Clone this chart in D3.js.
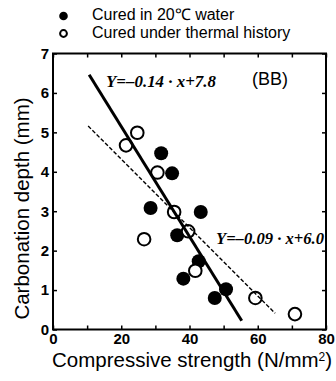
<!DOCTYPE html>
<html>
<head>
<meta charset="utf-8">
<script src="https://cdn.jsdelivr.net/npm/d3@7"></script>
<style>
  html, body { margin: 0; padding: 0; background: #fff; }
  svg { display: block; }
</style>
</head>
<body>
<svg id="chart" width="336" height="381"></svg>
<script>
// ---- data ----
const waterX   = [31.7, 34.9, 28.6, 43.3, 36.4, 42.7, 38.2, 47.4, 50.7];
const waterY   = [4.47, 3.96, 3.08, 2.98, 2.39, 1.73, 1.29, 0.80, 1.02];
const thermalX = [24.7, 21.4, 30.6, 35.5, 26.7, 39.6, 41.7, 59.3, 70.9];
const thermalY = [4.99, 4.67, 3.98, 2.98, 2.29, 2.49, 1.49, 0.80, 0.39];
const fitWaterX   = [10.6, 55.3];
const fitWaterY   = [6.46, 0.22];
const fitThermalX = [10.3, 65.1];
const fitThermalY = [5.16, 0.41];
const xTicks = [0, 10, 20, 30, 40, 50, 60, 70, 80];
const xTickLabels = [0, 20, 40, 60, 80];
const yTicks = [0, 1, 2, 3, 4, 5, 6, 7];
const legendLabels = ["Cured in 20\u2103 water", "Cured under thermal history"];
const eqWater = "Y=\u20130.14 \u00B7 x+7.8";
const eqThermal = "Y=\u20130.09 \u00B7 x+6.0";
const panelLabel = "(BB)";
const xTitle = "Compressive strength (N/mm";
const yTitle = "Carbonation depth (mm)";

// ---- layout ----
const svg = d3.select("#chart");
const L = 53, R = 326, T = 53.5, B = 329.5;
const x = d3.scaleLinear().domain([0, 80]).range([L, R]);
const y = d3.scaleLinear().domain([0, 7]).range([B, T]);
const sans = "'Liberation Sans', Arial, sans-serif";
const serif = "'Liberation Serif', 'Times New Roman', serif";

// tick marks (inward) on all four sides
function styleAxis(g) {
  g.select(".domain").remove();
  g.selectAll(".tick line").attr("stroke", "#000").attr("stroke-width", 1.5);
}
svg.append("g").attr("transform", `translate(0,${B})`)
  .call(d3.axisBottom(x).tickValues(xTicks).tickSize(-4).tickFormat(""))
  .call(styleAxis);
svg.append("g").attr("transform", `translate(0,${T})`)
  .call(d3.axisTop(x).tickValues(xTicks).tickSize(-4).tickFormat(""))
  .call(styleAxis);
svg.append("g").attr("transform", `translate(${L},0)`)
  .call(d3.axisLeft(y).tickValues(yTicks).tickSize(-4).tickFormat(""))
  .call(styleAxis);
svg.append("g").attr("transform", `translate(${R},0)`)
  .call(d3.axisRight(y).tickValues(yTicks).tickSize(-4).tickFormat(""))
  .call(styleAxis);

// tick labels
const xl = svg.append("g").attr("transform", `translate(0,${B})`)
  .call(d3.axisBottom(x).tickValues(xTickLabels).tickSize(0).tickPadding(4).tickFormat(d3.format("d")));
xl.select(".domain").remove();
xl.selectAll("text").attr("font-family", sans).attr("font-size", 15).attr("font-weight", "bold").attr("fill", "#000");

const yl = svg.append("g").attr("transform", `translate(${L},0)`)
  .call(d3.axisLeft(y).tickValues(yTicks).tickSize(0).tickPadding(4).tickFormat(d3.format("d")));
yl.select(".domain").remove();
yl.selectAll("text").attr("font-family", sans).attr("font-size", 15).attr("font-weight", "bold").attr("fill", "#000");

// frame
svg.append("rect").attr("x", L).attr("y", T).attr("width", R - L).attr("height", B - T)
  .attr("fill", "none").attr("stroke", "#000").attr("stroke-width", 2);

// points
const water = waterX.map((v, i) => [v, waterY[i]]);
const thermal = thermalX.map((v, i) => [v, thermalY[i]]);
svg.append("g").selectAll("circle").data(water).join("circle")
  .attr("cx", d => x(d[0])).attr("cy", d => y(d[1])).attr("r", 7).attr("fill", "#000");
svg.append("g").selectAll("circle").data(thermal).join("circle")
  .attr("cx", d => x(d[0])).attr("cy", d => y(d[1])).attr("r", 6.3)
  .attr("fill", "#fff").attr("stroke", "#000").attr("stroke-width", 2);

// fit lines
const line = d3.line().x(d => x(d[0])).y(d => y(d[1]));
svg.append("path").datum(fitWaterX.map((v, i) => [v, fitWaterY[i]]))
  .attr("d", line).attr("stroke", "#000").attr("stroke-width", 3).attr("fill", "none");
svg.append("path").datum(fitThermalX.map((v, i) => [v, fitThermalY[i]]))
  .attr("d", line).attr("stroke", "#000").attr("stroke-width", 1.4)
  .attr("stroke-dasharray", "4,2").attr("fill", "none");

// equations and panel label
svg.append("text").attr("x", 106).attr("y", 87).text(eqWater)
  .attr("font-family", serif).attr("font-style", "italic").attr("font-weight", "bold")
  .attr("font-size", 17).attr("textLength", 110).attr("lengthAdjust", "spacingAndGlyphs");
svg.append("text").attr("x", 216).attr("y", 244).text(eqThermal)
  .attr("font-family", serif).attr("font-style", "italic").attr("font-weight", "bold")
  .attr("font-size", 17).attr("textLength", 108).attr("lengthAdjust", "spacingAndGlyphs");
svg.append("text").attr("x", 252).attr("y", 85).text(panelLabel)
  .attr("font-family", sans).attr("font-size", 18);

// legend
const lg = svg.append("g");
lg.append("circle").attr("cx", 63.5).attr("cy", 16).attr("r", 4.3).attr("fill", "#000");
lg.append("circle").attr("cx", 63.5).attr("cy", 33.5).attr("r", 3.4)
  .attr("fill", "#fff").attr("stroke", "#000").attr("stroke-width", 2);
lg.selectAll("text").data(legendLabels).join("text")
  .attr("x", 92).attr("y", (d, i) => 20 + i * 17.5).text(d => d)
  .attr("font-family", sans).attr("font-size", 16);

// axis titles
const xt = svg.append("text").attr("x", 52).attr("y", 367)
  .attr("font-family", sans).attr("font-size", 20.5);
xt.append("tspan").text(xTitle);
xt.append("tspan").attr("dy", -6).attr("font-size", 12).text("2");
xt.append("tspan").attr("dy", 6).text(")");

svg.append("text").attr("transform", `translate(29,${(89 + 328) / 2}) rotate(-90)`)
  .attr("text-anchor", "middle").attr("font-family", sans).attr("font-size", 20.5)
  .text(yTitle);
</script>
</body>
</html>
